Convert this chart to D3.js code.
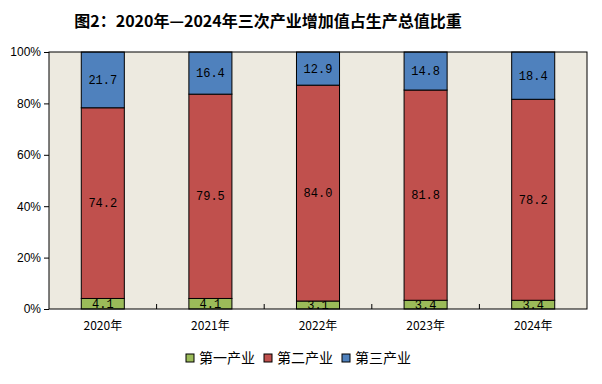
<!DOCTYPE html>
<html>
<head>
<meta charset="utf-8">
<script src="https://cdn.jsdelivr.net/npm/d3@7"></script>
<style>
  body { margin: 0; background: #fff; }
  svg { display: block; }
  text { font-family: "Liberation Sans", "Noto Sans CJK SC", sans-serif; }
</style>
</head>
<body>
<svg id="chart" width="602" height="384"></svg>
<script>
// 数据
const years = ['2020年', '2021年', '2022年', '2023年', '2024年'];
const primary = [4.1, 4.1, 3.1, 3.4, 3.4];
const secondary = [74.2, 79.5, 84.0, 81.8, 78.2];
const tertiary = [21.7, 16.4, 12.9, 14.8, 18.4];
const seriesNames = ['第一产业', '第二产业', '第三产业'];
const colors = ['#9BBB59', '#C0504D', '#4F81BD'];
const yTicks = [0, 20, 40, 60, 80, 100];

const svg = d3.select('#chart');
const margin = { top: 52, right: 15, bottom: 75, left: 49 };
const width = 602 - margin.left - margin.right,
    height = 384 - margin.top - margin.bottom;

const rows = years.map((y, i) => ({ year: y, p: primary[i], s: secondary[i], t: tertiary[i] }));
const stacked = d3.stack().keys(['p', 's', 't'])(rows);

const x = d3.scaleBand().domain(years).range([0, width]).paddingInner(0.6).paddingOuter(0.3);
const xb = d3.scaleBand().domain(years).range([0, width]);
const y = d3.scaleLinear().domain([0, 100]).range([height, 0]);

// 标题
svg.append('text')
    .attr('x', 268)
    .attr('y', 27)
    .attr('text-anchor', 'middle')
    .attr('font-size', '16px')
    .attr('font-weight', 'bold')
    .style('font-family', '"Noto Sans CJK SC", sans-serif')
    .text('图2：2020年—2024年三次产业增加值占生产总值比重');

const g = svg.append('g').attr('transform', `translate(${margin.left},${margin.top})`);

g.append('rect')
    .attr('width', width)
    .attr('height', height)
    .attr('fill', '#EDEAE0');

// 柱子
stacked.forEach((layer, k) => {
    g.selectAll('.seg' + k)
        .data(layer)
        .enter()
        .append('rect')
        .attr('class', 'seg' + k)
        .attr('x', d => x(d.data.year))
        .attr('y', d => y(d[1]))
        .attr('width', x.bandwidth())
        .attr('height', d => y(d[0]) - y(d[1]))
        .attr('fill', colors[k])
        .attr('stroke', '#000')
        .attr('stroke-width', 1);

    g.selectAll('.lab' + k)
        .data(layer)
        .enter()
        .append('text')
        .attr('x', d => x(d.data.year) + x.bandwidth() / 2)
        .attr('y', d => (y(d[0]) + y(d[1])) / 2 + 4)
        .attr('text-anchor', 'middle')
        .attr('font-size', '12px')
        .style('font-family', '"Liberation Mono", monospace')
        .text(d => (d[1] - d[0]).toFixed(1));
});

// 边框
g.append('rect')
    .attr('width', width)
    .attr('height', height)
    .attr('fill', 'none')
    .attr('stroke', '#000')
    .attr('stroke-width', 1);

// y轴
const yAxis = g.append('g')
    .call(d3.axisLeft(y).tickValues(yTicks).tickFormat(d => d + '%').tickSize(5));
yAxis.select('.domain').remove();
yAxis.selectAll('text').attr('font-size', '12px').attr('fill', '#000')
    .style('font-family', '"Liberation Sans", sans-serif');

// x轴
const xAxis = g.append('g')
    .attr('transform', `translate(0,${height})`)
    .call(d3.axisBottom(x).tickSize(0).tickPadding(12));
xAxis.select('.domain').remove();
xAxis.selectAll('text').attr('font-size', '12px').attr('fill', '#000')
    .style('font-family', '"Noto Sans CJK SC", sans-serif');

g.selectAll('.xtick')
    .data(years.slice(1))
    .enter()
    .append('line')
    .attr('x1', d => xb(d))
    .attr('x2', d => xb(d))
    .attr('y1', height)
    .attr('y2', height - 5)
    .attr('stroke', '#000');

// 图例
const legendX = [186, 264, 342];
const legend = svg.append('g').attr('transform', 'translate(0,358)');
seriesNames.forEach((name, i) => {
    legend.append('rect')
        .attr('x', legendX[i])
        .attr('y', -4)
        .attr('width', 8)
        .attr('height', 8)
        .attr('fill', colors[i])
        .attr('stroke', '#000');
    legend.append('text')
        .attr('x', legendX[i] + 13)
        .attr('y', 5)
        .attr('font-size', '14px')
        .style('font-family', '"Noto Sans CJK SC", sans-serif')
        .text(name);
});
</script>
</body>
</html>
